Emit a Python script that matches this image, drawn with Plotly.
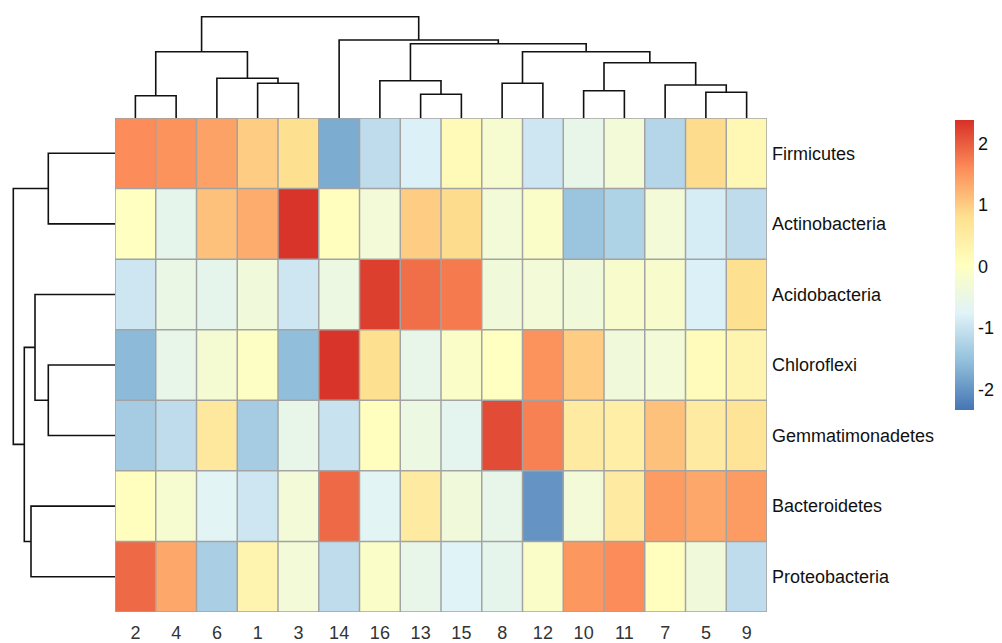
import plotly.graph_objects as go

# ---------------- data ----------------
col_labels = ["2", "4", "6", "1", "3", "14", "16", "13", "15", "8", "12", "10", "11", "7", "5", "9"]
row_labels = ["Firmicutes", "Actinobacteria", "Acidobacteria", "Chloroflexi",
              "Gemmatimonadetes", "Bacteroidetes", "Proteobacteria"]

firmicutes       = [1.60, 1.55, 1.40, 1.00, 0.80, -1.75, -1.10, -0.80, 0.15, -0.20, -0.95, -0.55, -0.30, -1.20, 0.85, 0.20]
actinobacteria   = [0.00, -0.60, 1.10, 1.30, 2.35, 0.05, -0.30, 1.00, 0.85, -0.30, -0.10, -1.45, -1.25, -0.30, -0.85, -1.10]
acidobacteria    = [-0.95, -0.50, -0.60, -0.35, -0.95, -0.45, 2.25, 1.85, 1.75, -0.35, -0.30, -0.35, -0.15, -0.15, -0.80, 0.80]
chloroflexi      = [-1.60, -0.55, -0.25, -0.05, -1.55, 2.35, 0.80, -0.55, -0.10, 0.00, 1.55, 1.00, -0.35, -0.30, 0.10, 0.30]
gemmatimonadetes = [-1.35, -1.10, 0.60, -1.35, -0.55, -1.00, 0.05, -0.45, -0.65, 2.15, 1.70, 0.55, 0.45, 1.10, 0.55, 0.70]
bacteroidetes    = [0.05, -0.20, -0.70, -0.95, -0.30, 1.90, -0.70, 0.55, -0.35, -0.55, -2.00, -0.30, 0.55, 1.45, 1.35, 1.45]
proteobacteria   = [1.90, 1.35, -1.30, 0.30, -0.30, -1.10, -0.10, -0.55, -0.75, -0.60, -0.10, 1.50, 1.60, 0.05, -0.35, -1.10]

z_values = [firmicutes, actinobacteria, acidobacteria, chloroflexi,
            gemmatimonadetes, bacteroidetes, proteobacteria]

scale_min, scale_max = -2.33, 2.38
colorbar_ticks = [-2, -1, 0, 1, 2]

# dendrogram merges: (left child, right child, height); str = leaf label, int = earlier merge index
col_merges = [
    ("2", "4", 22.3),
    ("1", "3", 34.7),
    ("6", 1, 39.7),
    (0, 2, 66.3),
    ("13", "15", 23.7),
    ("16", 4, 37.3),
    ("8", "12", 34.7),
    ("10", "11", 27.3),
    ("5", "9", 25.7),
    ("7", 8, 33.0),
    (7, 9, 55.3),
    (6, 10, 66.3),
    (5, 11, 74.3),
    ("14", 12, 78.0),
    (3, 13, 101.3),
]
row_merges = [
    ("Firmicutes", "Actinobacteria", 66.7),
    ("Chloroflexi", "Gemmatimonadetes", 66.7),
    ("Acidobacteria", 1, 80.0),
    ("Bacteroidetes", "Proteobacteria", 84.0),
    (2, 3, 90.7),
    (0, 4, 101.7),
]

# RdYlBu (7) reversed, as in pheatmap default
palette = ["#4575B4", "#91BFDB", "#E0F3F8", "#FFFFBF", "#FEE090", "#FC8D59", "#D73027"]


def dendro_segments(leaves, merges):
    pos = {}
    hgt = {}
    for i, name in enumerate(leaves):
        pos[name] = float(i)
        hgt[name] = 0.0
    xs, hs = [], []
    for k, (a, b, h) in enumerate(merges):
        pa, pb = pos[a], pos[b]
        ha, hb = hgt[a], hgt[b]
        xs += [pa, pa, pb, pb, None]
        hs += [ha, h, h, hb, None]
        pos[k] = (pa + pb) / 2.0
        hgt[k] = h
    return xs, hs


W, H = 1002, 643
hm_left, hm_right, hm_top, hm_bottom = 115, 767, 118, 612
xdom = [hm_left / W, hm_right / W]
ydom = [1 - hm_bottom / H, 1 - hm_top / H]

fig = go.Figure()

n_cols = len(col_labels)
n_rows = len(row_labels)

fig.add_trace(go.Heatmap(
    z=z_values,
    x=list(range(n_cols)),
    y=list(range(n_rows)),
    zmin=scale_min, zmax=scale_max,
    colorscale=[[i / (len(palette) - 1), c] for i, c in enumerate(palette)],
    xaxis="x", yaxis="y",
    colorbar=dict(
        x=955 / W, xanchor="left",
        y=1 - 265 / H, yanchor="middle",
        len=290 / H, lenmode="fraction",
        thickness=19, thicknessmode="pixels",
        outlinewidth=0,
        tickvals=colorbar_ticks,
        ticktext=[str(t) for t in colorbar_ticks],
        ticks="",
        tickfont=dict(family="Liberation Sans, Arial", size=18, color="#111111"),
        ypad=0, xpad=0,
    ),
    hoverongaps=False,
))

# cell borders
grid_color = "#A3A3A3"
for i in range(n_cols + 1):
    fig.add_shape(type="line", xref="x", yref="y",
                  x0=i - 0.5, x1=i - 0.5, y0=-0.5, y1=n_rows - 0.5,
                  line=dict(color=grid_color, width=1.5))
for j in range(n_rows + 1):
    fig.add_shape(type="line", xref="x", yref="y",
                  x0=-0.5, x1=n_cols - 0.5, y0=j - 0.5, y1=j - 0.5,
                  line=dict(color=grid_color, width=1.5))

# column dendrogram
cx, ch = dendro_segments(col_labels, col_merges)
fig.add_trace(go.Scatter(x=cx, y=ch, mode="lines", xaxis="x2", yaxis="y2",
                         line=dict(color="#111111", width=1.6), hoverinfo="skip",
                         showlegend=False, cliponaxis=False))

# row dendrogram
ry, rh = dendro_segments(row_labels, row_merges)
fig.add_trace(go.Scatter(x=rh, y=ry, mode="lines", xaxis="x3", yaxis="y3",
                         line=dict(color="#111111", width=1.6), hoverinfo="skip",
                         showlegend=False, cliponaxis=False))

fig.update_layout(
    width=W, height=H,
    margin=dict(l=0, r=0, t=0, b=0, autoexpand=False),
    paper_bgcolor="white", plot_bgcolor="white",
    showlegend=False,
    xaxis=dict(domain=xdom, range=[-0.5, n_cols - 0.5],
               tickvals=list(range(n_cols)), ticktext=col_labels,
               tickfont=dict(family="Liberation Sans, Arial", size=18, color="#333333"),
               ticks="", showgrid=False, zeroline=False, showline=False,
               ticklabelstandoff=8, fixedrange=True, automargin=False),
    yaxis=dict(domain=ydom, range=[n_rows - 0.5, -0.5],
               tickvals=list(range(n_rows)), ticktext=row_labels, side="right",
               tickfont=dict(family="Liberation Sans, Arial", size=18, color="#111111"),
               ticks="", showgrid=False, zeroline=False, showline=False,
               ticklabelstandoff=4, fixedrange=True, automargin=False),
    xaxis2=dict(domain=xdom, range=[-0.5, n_cols - 0.5], anchor="y2",
                visible=False, fixedrange=True),
    yaxis2=dict(domain=[ydom[1], 1.0], range=[0, hm_top], anchor="x2",
                visible=False, fixedrange=True),
    xaxis3=dict(domain=[0, xdom[0]], range=[hm_left, 0], anchor="y3",
                visible=False, fixedrange=True),
    yaxis3=dict(domain=ydom, range=[n_rows - 0.5, -0.5], anchor="x3",
                visible=False, fixedrange=True),
)

fig.write_html("out.html", config={"displayModeBar": False},
               post_script="document.body.style.margin='0';document.body.style.overflow='hidden';")
